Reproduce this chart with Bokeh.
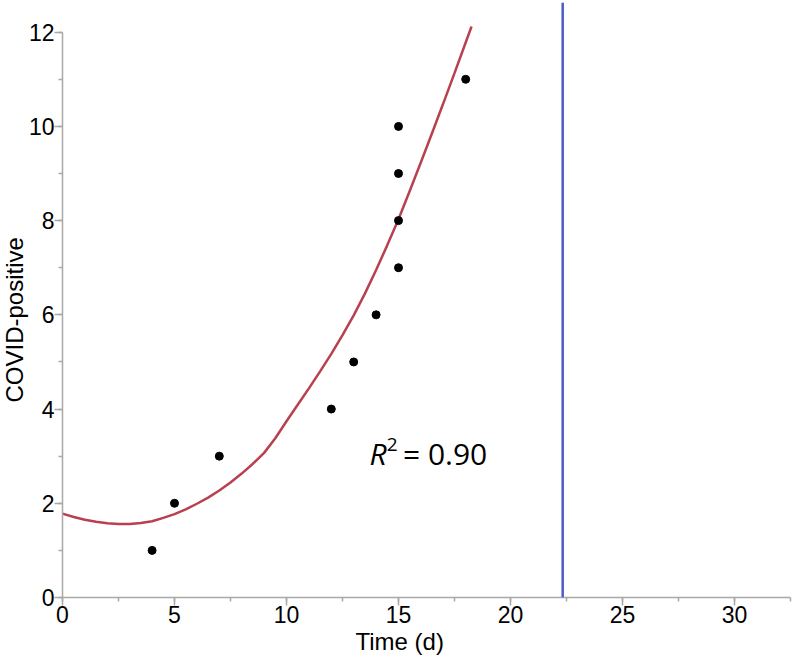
from bokeh.plotting import figure
from bokeh.models import Span, Label, SingleIntervalTicker, Range1d, Title
from bokeh.embed import file_html
from bokeh.resources import INLINE

# Observed data points
obs_days = [4, 5, 7, 12, 13, 14, 15, 15, 15, 15, 18]
obs_positive = [1, 2, 3, 4, 5, 6, 7, 8, 9, 10, 11]

# Fitted curve
fit_days = [0, 0.5, 1, 1.5, 2, 2.5, 3, 3.5, 4, 4.5, 5, 5.5, 6, 6.5, 7, 7.5, 8, 8.5, 9, 9.5,
            10, 10.5, 11, 11.5, 12, 12.5, 13, 13.5, 14, 14.5, 15, 15.5, 16, 16.5, 17, 17.5,
            18, 18.26]
fit_positive = [1.78, 1.71, 1.65, 1.61, 1.575, 1.56, 1.56, 1.58, 1.62, 1.69, 1.77, 1.87,
                1.99, 2.12, 2.27, 2.44, 2.63, 2.84, 3.07, 3.38, 3.74, 4.09, 4.44, 4.80,
                5.17, 5.57, 5.99, 6.45, 6.95, 7.48, 8.03, 8.63, 9.24, 9.86, 10.49, 11.13,
                11.78, 12.12]

cutoff_day = 22.33
r2_text = "0.90"
x_label = "Time (d)"
y_label = "COVID-positive"

AXIS_COLOR = "#a9a9a9"

p = figure(frame_width=728, frame_height=595, output_backend="svg", toolbar_location=None,
           x_range=Range1d(0, 32.5), y_range=Range1d(0, 12.63),
           min_border_left=62, min_border_right=3, min_border_top=2, min_border_bottom=63)
p.outline_line_color = None
p.xgrid.visible = False
p.ygrid.visible = False
p.background_fill_color = "white"

p.xaxis.ticker = SingleIntervalTicker(interval=5, num_minor_ticks=2)
p.yaxis.ticker = SingleIntervalTicker(interval=2, num_minor_ticks=2)
p.yaxis.bounds = (0, 12)
p.xaxis.bounds = (0, 32.5)

for ax in (p.xaxis, p.yaxis):
    ax.axis_line_color = AXIS_COLOR
    ax.axis_line_width = 1.5
    ax.major_tick_line_color = AXIS_COLOR
    ax.minor_tick_line_color = AXIS_COLOR
    ax.major_tick_line_width = 1.5
    ax.minor_tick_line_width = 1.5
    ax.major_tick_out = 8
    ax.major_tick_in = 0
    ax.minor_tick_out = 4
    ax.minor_tick_in = 0
    ax.major_label_text_font = "Liberation Sans"
    ax.major_label_text_font_size = "23px"
    ax.major_label_text_color = "black"
p.xaxis.major_label_standoff = 0
p.yaxis.major_label_standoff = 0

# axis titles, positioned like the reference
p.add_layout(Title(text=x_label, align="left", offset=293, standoff=0,
                   text_font="Liberation Sans", text_font_size="24px",
                   text_font_style="normal", text_color="black"), "below")
p.add_layout(Title(text=y_label, align="left", offset=195, standoff=-4,
                   text_font="Liberation Sans", text_font_size="24px",
                   text_font_style="normal", text_color="black"), "left")

p.line(fit_days, fit_positive, line_color="#b8404f", line_width=2.5)
p.scatter(obs_days, obs_positive, size=8, color="black")

p.add_layout(Span(location=cutoff_day, dimension="height", line_color="#4a5cc7", line_width=2.5))

# R^2 annotation
p.add_layout(Label(x=13.7, y=2.62, text="R", text_font="Open Sans", text_font_style="italic",
                   text_font_size="30px", text_color="black"))
p.add_layout(Label(x=14.48, y=3.1, text="2", text_font="Open Sans",
                   text_font_size="19px", text_color="black"))
p.add_layout(Label(x=15.2, y=2.62, text="= " + r2_text, text_font="Open Sans",
                   text_font_size="30px", text_color="black"))

open("out.html", "w").write(file_html(p, INLINE))
